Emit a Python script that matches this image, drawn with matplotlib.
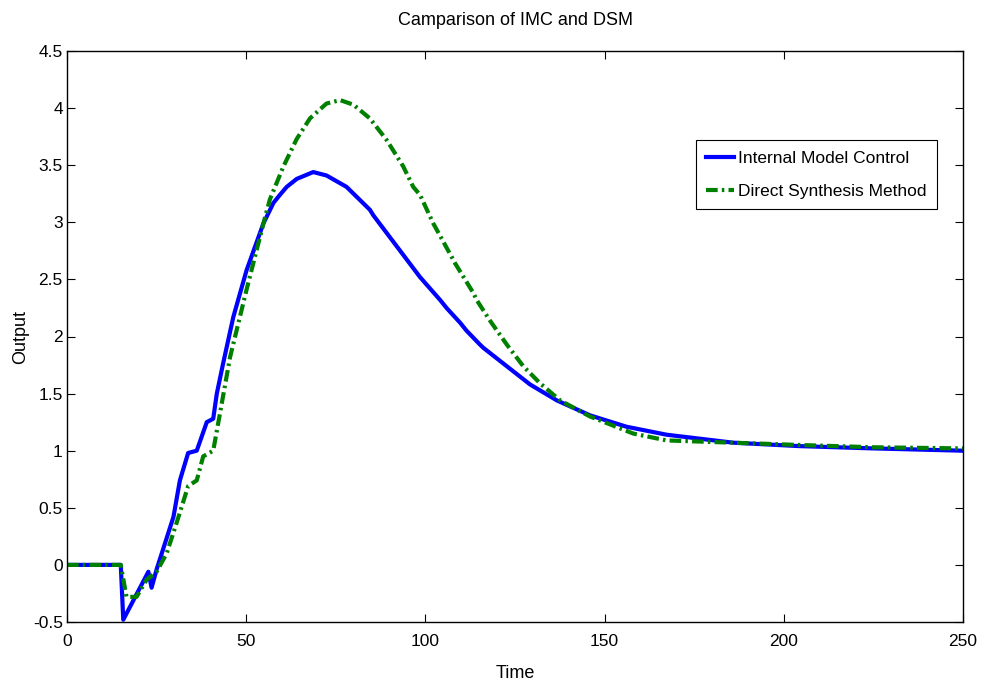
import matplotlib
matplotlib.use('Agg')
import matplotlib.pyplot as plt

# values (time, output)
imc_t = [0, 15, 15.7, 22.7, 23.6, 25, 29.7, 31.5, 33.8, 36.2, 39, 40.8, 41.8, 43.6,
         46.4, 50.1, 54.8, 57.6, 59.4, 61.3, 64.1, 68.7, 72.4, 78, 84.5, 85.5, 92, 98.5,
         104.1, 105.9, 109.7, 111.5, 115.2, 116.2, 122.7, 129.2, 136.7, 145.9, 156.1,
         167.3, 185.9, 204.5, 225, 250]
imc_y = [0, 0, -0.48, -0.06, -0.20, -0.04, 0.42, 0.74, 0.98, 1.00, 1.25, 1.28, 1.50, 1.77,
         2.17, 2.58, 2.99, 3.17, 3.24, 3.31, 3.38, 3.44, 3.41, 3.31, 3.11, 3.06, 2.79, 2.52,
         2.32, 2.25, 2.12, 2.05, 1.93, 1.90, 1.74, 1.58, 1.44, 1.31, 1.21,
         1.14, 1.07, 1.04, 1.02, 1.00]

dsm_t = [0, 15, 16.6, 19.4, 22.2, 25, 27.8, 30.6, 33.8, 36.2, 38, 40.8, 42.7, 45.5,
         50.1, 54.8, 56.6, 60.4, 64.1, 67.8, 72.4, 76.2, 79.9, 84.5, 89.2, 91, 93.8,
         96.6, 98.5, 102.2, 107.8, 108.3, 113.4, 114.3, 118, 122.7, 127.3, 132, 137.6,
         145.9, 158, 167.3, 185.9, 204.5, 225, 250]
dsm_y = [0, 0, -0.28, -0.28, -0.13, -0.06, 0.10, 0.37, 0.69, 0.74, 0.95, 1.00, 1.33, 1.82,
         2.41, 2.99, 3.20, 3.49, 3.73, 3.91, 4.04, 4.07, 4.03, 3.91, 3.72, 3.63, 3.49,
         3.31, 3.24, 2.99, 2.67, 2.64, 2.38, 2.32, 2.14, 1.93, 1.74, 1.59, 1.44,
         1.30, 1.15, 1.09, 1.07, 1.05, 1.03, 1.02]

x_ticks = [0, 50, 100, 150, 200, 250]
y_ticks = [-0.5, 0, 0.5, 1, 1.5, 2, 2.5, 3, 3.5, 4, 4.5]
y_labels = ['-0.5', '0', '0.5', '1', '1.5', '2', '2.5', '3', '3.5', '4', '4.5']

plt.rcParams['font.family'] = ['Liberation Sans', 'DejaVu Sans']
plt.rcParams['axes.unicode_minus'] = False

fig = plt.figure(figsize=(9.81, 6.84), dpi=100)
ax = fig.add_axes([67 / 981, 1 - 622 / 684, 896 / 981, 571 / 684])

ax.plot(imc_t, imc_y, color='#0000ff', lw=3, label='Internal Model Control')
ax.plot(dsm_t, dsm_y, color='#008000', lw=3, linestyle=(0, (2.8, 1.0, 0.6, 1.0)),
        label='Direct Synthesis Method')

ax.set_xlim(0, 250)
ax.set_ylim(-0.5, 4.5)
ax.set_xticks(x_ticks)
ax.set_yticks(y_ticks)
ax.set_yticklabels(y_labels)
ax.tick_params(direction='in', length=6, width=0.8, top=True, right=True, labelsize=12.5)
ax.tick_params(axis='x', pad=9)
ax.tick_params(axis='y', pad=3)
for s in ax.spines.values():
    s.set_linewidth(1.0)

ax.set_title('Camparison of IMC and DSM', fontsize=13, pad=19)
ax.set_xlabel('Time', fontsize=13, labelpad=11)
ax.set_ylabel('Output', fontsize=13, labelpad=3)

leg = ax.legend(loc='upper right', bbox_to_anchor=(0.971, 0.844), borderaxespad=0,
                fontsize=12.5, fancybox=False, edgecolor='black', framealpha=1,
                handlelength=1.6, handletextpad=0.25, borderpad=0.6, labelspacing=1.05)
leg.get_frame().set_linewidth(0.8)

fig.savefig('out.png', dpi=100)
